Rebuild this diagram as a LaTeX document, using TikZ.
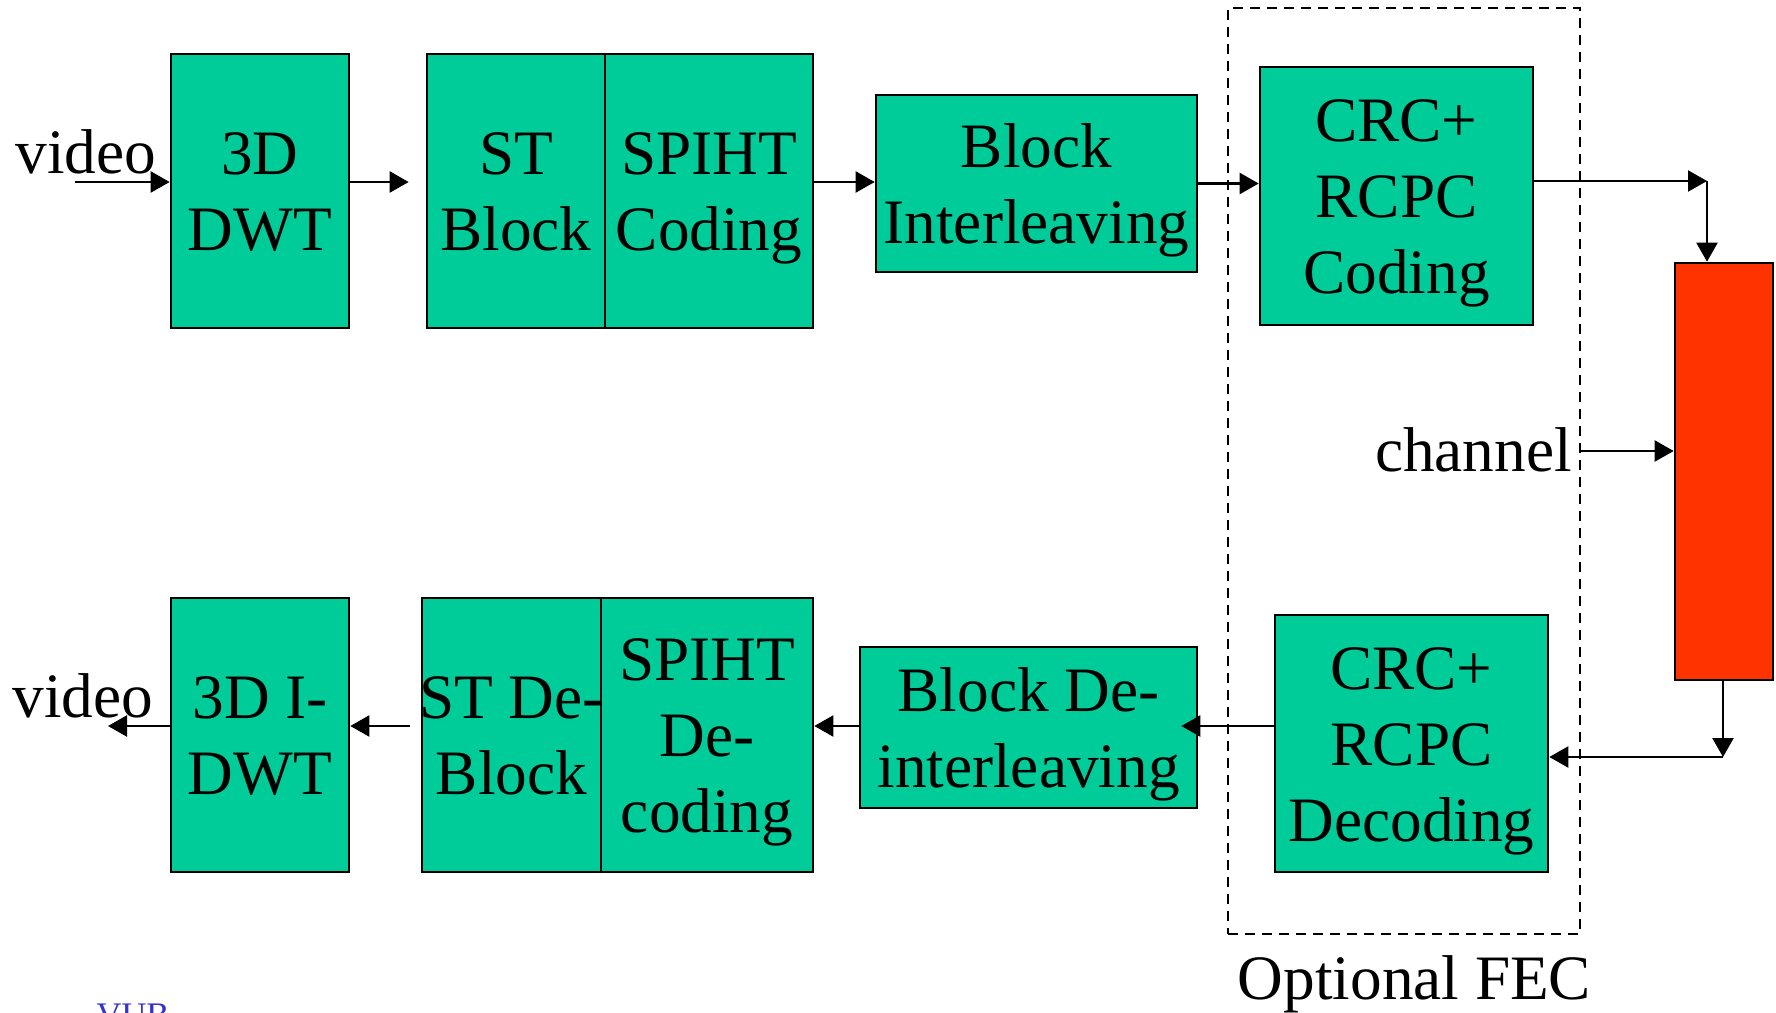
\documentclass[tikz,border=0pt]{standalone}
\usepackage{fontspec}
\setmainfont{Liberation Serif}
\usepackage{tikz}
\usetikzlibrary{arrows.meta,positioning,calc}
\definecolor{blockgreen}{HTML}{00CC99}
\definecolor{chanred}{HTML}{FF3300}
\definecolor{vubblue}{HTML}{3333CC}
\newcommand\boxstrut{\rule[-9.3pt]{0pt}{43.2pt}}

\begin{document}
\begin{tikzpicture}[font=\fontsize{36}{43.2}\selectfont,every node/.style={align=center},
  block/.style={draw=black,line width=1.5pt,fill=blockgreen,inner sep=0pt},
  chanbox/.style={draw=black,line width=1.5pt,fill=chanred,inner sep=0pt},
  fecbox/.style={draw=black,line width=1.3pt,dash pattern=on 0.2cm off 0.14cm,inner sep=0pt},
  link/.style={-{Triangle[length=0.38cm,width=0.42cm]},line width=1.3pt}]
  \clip (0,0) rectangle (35.52,-20.26);
  % encoder row
  \node[block,minimum width=3.56cm,minimum height=5.48cm] (dwt) at (5.2,-3.82) {\boxstrut 3D\\DWT\boxstrut};
  \node[block,minimum width=3.56cm,minimum height=5.48cm] (stblock) at (10.32,-3.82) {\boxstrut ST\\Block\boxstrut};
  \node[block,minimum width=4.16cm,minimum height=5.48cm] (spiht) at (14.18,-3.82) {\boxstrut SPIHT\\Coding\boxstrut};
  \node[block,minimum width=6.42cm,minimum height=3.54cm] (interleave) at (20.73,-3.67) {\boxstrut Block\\Interleaving\boxstrut};
  \node[block,minimum width=5.46cm,minimum height=5.16cm] (crc) at (27.93,-3.92) {\boxstrut CRC+\\RCPC\\Coding\boxstrut};
  % channel
  \node[chanbox,minimum width=1.96cm,minimum height=8.34cm] (chan) at (34.48,-9.43) {};
  \node[anchor=base] (chtext) at (29.47,-9.42) {channel};
  % decoder row
  \node[block,minimum width=5.46cm,minimum height=5.14cm] (dec) at (28.23,-14.87) {\boxstrut CRC+\\RCPC\\Decoding\boxstrut};
  \node[block,minimum width=6.74cm,minimum height=3.22cm] (deinter) at (20.57,-14.55) {\boxstrut Block De-\\interleaving\boxstrut};
  \node[block,minimum width=4.24cm,minimum height=5.48cm] (spihtdec) at (14.14,-14.7) {\boxstrut SPIHT\\De-\\coding\boxstrut};
  \node[block,minimum width=3.58cm,minimum height=5.48cm] (stdeblock) at (10.23,-14.7) {};
  \node[inner sep=0pt] (stdeblocktxt) at (stdeblock) {\boxstrut ST De-\\Block\boxstrut};
  \node[block,minimum width=3.56cm,minimum height=5.48cm] (idwt) at (5.2,-14.7) {\boxstrut 3D I-\\DWT\boxstrut};
  % optional FEC
  \node[fecbox,minimum width=7.04cm,minimum height=18.52cm] (fec) at (28.08,-9.42) {};
  \node[anchor=base] (fectext) at (28.29,-19.98) {Optional FEC};
  \node[anchor=base] (vintext) at (1.72,-3.46) {video};
  \node[anchor=base] (vouttext) at (1.66,-14.34) {video};
  \node[anchor=base,text=vubblue,font=\fontsize{19.6}{23}\selectfont] (vub) at (2.66,-20.52) {VUB};
  % connectors
  \coordinate (vin) at (1.5,-3.64);
  \coordinate (vout) at (2.16,-14.52);
  \coordinate (c1) at (34.14,-3.62);
  \coordinate (c2) at (34.46,-15.14);
  \coordinate (cin) at (31.6,-9.02);
  \draw[link] (vin) -- (vin -| dwt.west);
  \draw[link,shorten >=0.34cm] (dwt.east |- vin) -- (stblock.west |- vin);
  \draw[link] (spiht.east |- vin) -- (interleave.west |- vin);
  \draw[link] (interleave.east) -- (interleave.east -| crc.west);
  \draw[link] (crc.east |- c1) -- (c1);
  \draw[link] (c1) -- (c1 |- chan.north);
  \draw[link] (cin) -- (cin -| chan.west);
  \draw[link] (c2 |- chan.south) -- (c2);
  \draw[link] (c2) -- (c2 -| dec.east);
  \draw[link,shorten >=-0.34cm] (dec.west |- vout) -- (deinter.east |- vout);
  \draw[link] (deinter.west |- vout) -- (spihtdec.east |- vout);
  \draw[link,shorten <=0.22cm] (stdeblock.west |- vout) -- (idwt.east |- vout);
  \draw[link] (idwt.west |- vout) -- (vout);
\end{tikzpicture}
\end{document}
